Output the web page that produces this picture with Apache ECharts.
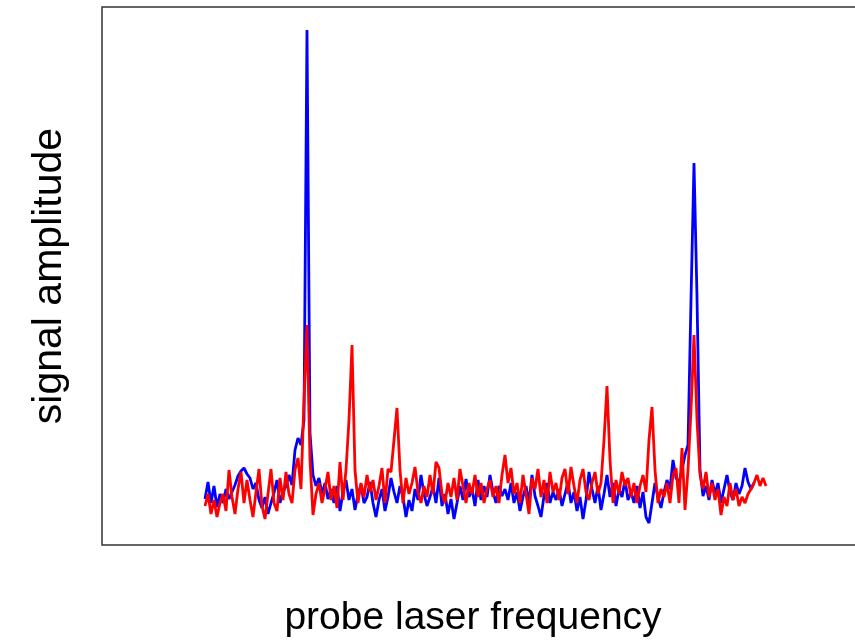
<!DOCTYPE html>
<html>
<head>
<meta charset="utf-8">
<script src="https://cdn.jsdelivr.net/npm/echarts@6/dist/echarts.min.js"></script>
<style>
  html, body { margin: 0; padding: 0; background: #fff; }
  #myChart { width: 855px; height: 640px; }
</style>
</head>
<body>
<div id="myChart"></div>
<script>
// signal amplitude (arbitrary units), one value per frequency step
var blueSignal = [
  -6, 11, -10, 7, -14, -1, -10, 4, -6, 1,
  8, 17, 22, 25, 19, 15, 4, 10, -7, -15,
  -4, -21, -10, 0, 13, -10, 1, 7, 18, 8,
  43, 55, 48, 73, 463, 60, 18, 7, 15, -1,
  10, -6, 4, -10, 7, -18, 1, 13, -7, 4,
  -17, -1, 8, -10, -4, 11, -10, -24, -7, 4,
  -18, -4, 15, 1, -10, 7, -4, -24, -7, -18,
  4, -7, 18, -1, -13, -4, 7, -10, 15, -13,
  -1, -21, -6, -26, -10, 7, -7, 14, -4, 4,
  -13, 13, -7, 7, -4, 18, 1, -10, 7, -3,
  4, -7, 10, -10, 1, -18, -4, 7, -10, 18,
  -3, -13, -24, -3, 10, -10, 1, -7, 4, -13,
  -1, 11, -10, 1, -18, -4, -26, -7, 21, 4,
  -10, 7, -17, -1, 18, -4, 10, -13, 4, -4,
  13, -7, 1, -10, 7, -15, 1, -24, -30, -10,
  10, -4, -15, 1, 13, 4, 33, 15, 11, 23,
  38, 48, 193, 330, 196, 23, -3, 7, -7, 13,
  -1, 10, -10, 4, 18, 1, -7, 10, -1, 7,
  25, 11, 4, 10
];
var redSignal = [
  -13, -1, -21, -7, -24, -10, -1, -18, 23, -4,
  -21, 4, 21, -10, 13, -7, -24, 1, 24, -13,
  -26, -1, 24, -10, -18, 15, -7, 21, -1, -10,
  23, 35, 4, 93, 168, 33, -22, -1, 10, -10,
  4, 21, -7, 7, -15, 31, -7, 23, 73, 148,
  23, -10, 10, -4, 18, 1, 13, -7, 7, 25,
  -10, 24, 21, 53, 85, 23, -10, 15, -1, 10,
  26, 1, -10, 7, -4, 18, -1, 31, 25, -1,
  -10, 10, -4, 15, -7, 24, 7, -10, 10, -1,
  18, -4, 10, -10, 4, 13, -4, 7, -10, 18,
  38, 10, 25, -1, 10, -10, 18, -1, -21, 15,
  4, 24, -4, 13, -10, 21, 1, 10, -7, 15,
  24, -1, 26, 7, -10, 13, 24, 1, -7, 10,
  21, -1, 10, 53, 107, 33, -10, 13, -1, 21,
  7, 15, -4, 10, -10, 7, 18, 1, 53, 86,
  23, -10, 4, -4, 10, -10, 18, 25, -10, 45,
  -17, 23, 83, 158, 73, 18, 4, 21, -4, 10,
  -7, 4, -22, -4, -13, 10, -7, 4, -13, -4,
  -10, -1, 4, 10, 18, 7, 15, 7
];
var xTitle = 'probe laser frequency';
var yTitle = 'signal amplitude';

function toPairs(arr) {
  return arr.map(function (v, i) { return [i, v]; });
}

var myChart = echarts.init(document.getElementById('myChart'));
var option = {
  animation: false,
  backgroundColor: '#fff',
  grid: {
    left: 102,
    top: 7,
    width: 760,
    height: 538,
    outerBoundsMode: 'none',
    containLabel: false,
    show: true,
    borderColor: '#333',
    borderWidth: 1.5,
    backgroundColor: 'transparent'
  },
  xAxis: {
    type: 'value',
    min: -34.33,
    max: 219,
    axisLine: { show: false },
    axisTick: { show: false },
    axisLabel: { show: false },
    splitLine: { show: false }
  },
  yAxis: {
    type: 'value',
    min: -52,
    max: 486,
    axisLine: { show: false },
    axisTick: { show: false },
    axisLabel: { show: false },
    splitLine: { show: false }
  },
  graphic: [
    {
      type: 'text',
      x: 473,
      y: 618,
      style: {
        text: xTitle,
        font: '39px "Liberation Sans", Arial, sans-serif',
        fill: '#000',
        align: 'center',
        verticalAlign: 'middle'
      }
    },
    {
      type: 'text',
      x: 50,
      y: 276,
      rotation: Math.PI / 2,
      style: {
        text: yTitle,
        font: '41px "Liberation Sans", Arial, sans-serif',
        fill: '#000',
        align: 'center',
        verticalAlign: 'middle'
      }
    }
  ],
  series: [
    {
      name: 'blue',
      type: 'line',
      data: toPairs(blueSignal),
      showSymbol: false,
      lineStyle: { color: '#0000ff', width: 2.8 },
      z: 2
    },
    {
      name: 'red',
      type: 'line',
      data: toPairs(redSignal),
      showSymbol: false,
      lineStyle: { color: '#ff0000', width: 2.8 },
      z: 3
    }
  ]
};
myChart.setOption(option);
window.onresize = myChart.resize;
</script>
</body>
</html>
